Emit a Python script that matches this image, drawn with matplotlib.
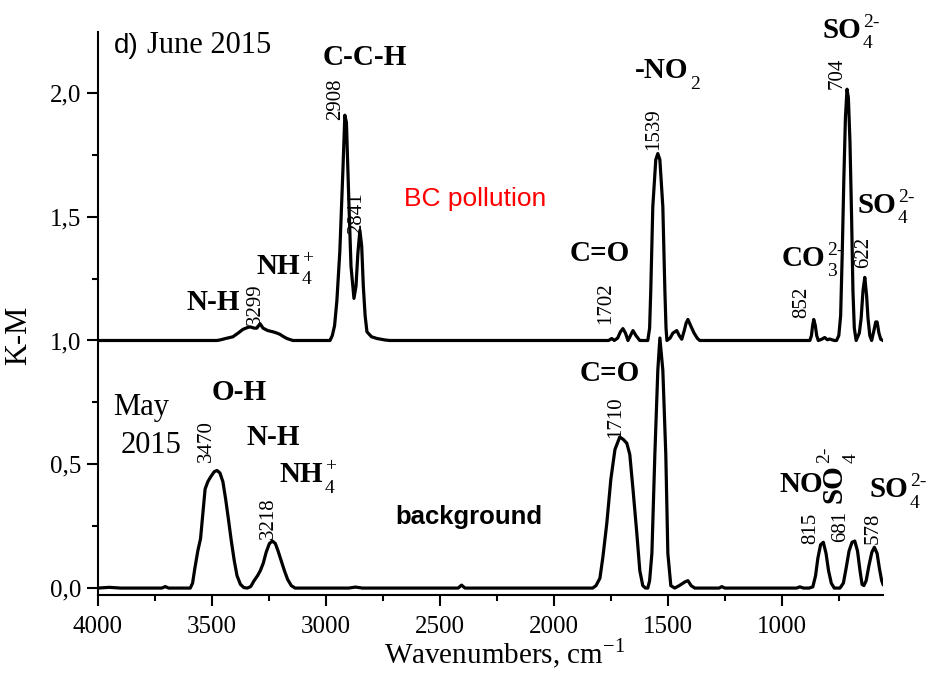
import matplotlib
matplotlib.use("Agg")
import matplotlib.pyplot as plt
from matplotlib.ticker import MultipleLocator

plt.rcParams['font.family'] = 'Liberation Serif'
plt.rcParams['mathtext.fontset'] = 'custom'
plt.rcParams['mathtext.rm'] = 'Liberation Serif'
plt.rcParams['mathtext.bf'] = 'Liberation Serif:bold'

# May 2015 - background (wavenumber, K-M)
may_wn = [4000, 3950, 3900, 3720, 3705, 3690, 3595, 3585, 3575, 3562, 3550, 3540, 3530, 3518,
          3505, 3490, 3478, 3465, 3452, 3440, 3428, 3415, 3402, 3390, 3375, 3360, 3345, 3330,
          3315, 3300, 3288, 3275, 3262, 3248, 3235, 3222, 3210, 3196, 3182, 3168, 3152, 3135,
          2900, 2870, 2840, 2420, 2405, 2390,
          1830, 1815, 1798, 1785, 1768, 1750, 1732, 1711, 1695, 1680, 1667, 1653, 1636, 1623,
          1610, 1598, 1588, 1580, 1570, 1557, 1544, 1535, 1522, 1509, 1500, 1487, 1470, 1450,
          1425, 1412, 1398, 1382, 1275, 1263, 1250, 935, 921, 905,
          880, 864, 852, 842, 830, 818, 806, 795, 783, 770, 745, 730, 718, 705, 692, 680, 668,
          657, 648, 640, 630, 618, 605, 594, 582, 572, 562, 556]
may_km = [0.0, 0.003, 0.0, 0.0, 0.006, 0.0, 0.0, 0.02, 0.08, 0.15, 0.20, 0.30, 0.40, 0.43,
          0.45, 0.47, 0.475, 0.465, 0.43, 0.36, 0.28, 0.19, 0.11, 0.05, 0.015, 0.002, 0.0, 0.006,
          0.03, 0.05, 0.07, 0.10, 0.145, 0.18, 0.19, 0.18, 0.15, 0.11, 0.07, 0.035, 0.01, 0.0,
          0.0, 0.004, 0.0, 0.0, 0.012, 0.0,
          0.0, 0.01, 0.04, 0.125, 0.26, 0.44, 0.56, 0.61, 0.60, 0.585, 0.54, 0.40, 0.22, 0.07,
          0.01, 0.0, 0.0, 0.03, 0.14, 0.54, 0.88, 1.01, 0.88, 0.54, 0.14, 0.01, 0.0, 0.01,
          0.025, 0.03, 0.01, 0.0, 0.0, 0.006, 0.0, 0.0, 0.005, 0.0,
          0.0, 0.005, 0.05, 0.12, 0.175, 0.185, 0.14, 0.07, 0.02, 0.0, 0.0, 0.02, 0.08, 0.15,
          0.185, 0.19, 0.15, 0.07, 0.015, 0.01, 0.03, 0.09, 0.145, 0.165, 0.14, 0.08, 0.03, 0.015]

# June 2015 - BC pollution, drawn as read (shifted by 1 in the figure)
june_wn = [4000, 3480, 3465, 3440, 3408, 3385, 3364, 3345, 3333, 3315, 3303, 3289, 3276, 3255,
           3232, 3215, 3202, 3185, 3171, 3145, 2985,
           2982, 2972, 2962, 2952, 2939, 2925, 2917, 2910, 2899, 2890, 2877, 2868, 2860, 2851,
           2843, 2836, 2828, 2820, 2800, 2776, 2740, 2720,
           1760, 1746, 1735, 1720, 1708, 1697, 1686, 1675, 1664, 1653, 1640, 1623, 1588, 1580,
           1575, 1566, 1553, 1544, 1535, 1522, 1513, 1508, 1504, 1490, 1478, 1461, 1450, 1439,
           1428, 1420, 1412, 1400, 1385, 1370, 1360,
           877, 870, 865, 860, 853, 847, 840, 825, 812, 800, 790, 770, 760, 750, 742, 735, 728,
           721, 714, 708, 701, 694, 688, 682, 674, 660, 652, 644, 636, 628, 622, 614, 606, 596,
           588, 582, 574, 566, 556]
june_km = [1.0, 1.0, 1.002, 1.008, 1.015, 1.03, 1.045, 1.052, 1.055, 1.05, 1.05, 1.068, 1.05, 1.04,
           1.035, 1.03, 1.025, 1.015, 1.008, 1.0, 1.0,
           1.0, 1.02, 1.06, 1.16, 1.36, 1.70, 1.91, 1.88, 1.55, 1.30, 1.17, 1.22, 1.35, 1.445,
           1.38, 1.22, 1.10, 1.035, 1.015, 1.008, 1.002, 1.0,
           1.0, 1.008, 1.0, 1.01, 1.035, 1.048, 1.03, 1.0, 1.02, 1.04, 1.02, 1.0, 1.0, 1.05,
           1.2, 1.54, 1.73, 1.755, 1.73, 1.54, 1.2, 1.05, 1.0, 1.01, 1.03, 1.04, 1.02, 1.005,
           1.04, 1.07, 1.085, 1.06, 1.03, 1.008, 1.0,
           1.0, 1.02, 1.06, 1.085, 1.06, 1.02, 1.0, 1.005, 1.012, 1.003, 1.006, 1.0, 1.0, 1.02,
           1.1, 1.35, 1.65, 1.9, 2.015, 1.98, 1.8, 1.5, 1.2, 1.05, 1.0, 1.03, 1.09, 1.2, 1.255,
           1.18, 1.09, 1.02, 1.0, 1.04, 1.075, 1.075, 1.03, 1.005, 1.0]

xticks = [4000, 3500, 3000, 2500, 2000, 1500, 1000]
yticks = [0.0, 0.5, 1.0, 1.5, 2.0]
ytick_labels = ['0,0', '0,5', '1,0', '1,5', '2,0']

# peak positions: (label, wavenumber, K-M) where the number is written
june_peaks = [('2908', 2956, 1.976), ('2841', 2864, 1.516), ('3299', 3311, 1.145),
              ('1702', 1772, 1.149), ('1539', 1561, 1.855), ('704', 759, 2.081),
              ('852', 912, 1.153), ('622', 640, 1.355)]
may_peaks = [('3470', 3522, 0.593), ('3218', 3254, 0.282), ('1710', 1728, 0.69),
             ('815', 873, 0.242), ('681', 741, 0.25), ('578', 601, 0.242)]

fig = plt.figure(figsize=(9.26, 6.75), dpi=100)
ax = fig.add_axes([0.1058, 0.1185, 0.8478, 0.8341])

ax.plot(june_wn, june_km, color='black', lw=2.3)
ax.plot(may_wn, may_km, color='black', lw=2.3)

ax.set_xlim(4000, 556)
ax.set_ylim(-0.028, 2.246)
ax.set_xticks(xticks)
ax.set_yticks(yticks)
ax.set_yticklabels(ytick_labels)
ax.xaxis.set_minor_locator(MultipleLocator(250))
ax.yaxis.set_minor_locator(MultipleLocator(0.25))
ax.tick_params(which='both', direction='out', width=1.5, labelsize=18)
ax.tick_params(which='major', length=8)
ax.tick_params(which='minor', length=4)
ax.tick_params(axis='x', pad=7)
ax.tick_params(axis='y', pad=4)
for side in ['top', 'right']:
    ax.spines[side].set_visible(False)
for side in ['left', 'bottom']:
    ax.spines[side].set_linewidth(1.5)

ax.set_xlabel('Wavenumbers, cm$^{\\mathregular{-1}}$', fontsize=21)
ax.set_ylabel('K-M', fontsize=22)
ax.xaxis.set_label_coords(0.518, -0.075)
ax.yaxis.set_label_coords(-0.083, 0.462)

# peak numbers, rotated
for lbl, x, y in june_peaks + may_peaks:
    ax.text(x, y, lbl, rotation=90, fontsize=15, ha='center', va='center')


def chem(x, y, base, sub=None, sup=None, rot=0):
    t = ax.text(x, y, base, fontsize=21, fontweight='bold', ha='left', va='baseline',
                rotation=rot, rotation_mode='anchor')
    if rot == 0:
        if sub:
            ax.annotate(sub, xy=(1, 0), xycoords=t, xytext=(1, 0), textcoords='offset points',
                        fontsize=14, ha='left', va='center')
        if sup:
            ax.annotate(sup, xy=(1, 1), xycoords=t, xytext=(1, -4), textcoords='offset points',
                        fontsize=14, ha='left', va='center')
    else:
        if sub:
            ax.annotate(sub, xy=(1, 1), xycoords=t, xytext=(3, 1), textcoords='offset points',
                        fontsize=14, ha='center', va='bottom', rotation=90)
        if sup:
            ax.annotate(sup, xy=(0, 1), xycoords=t, xytext=(3, 1), textcoords='offset points',
                        fontsize=14, ha='center', va='bottom', rotation=90)


def bold(x, y, s):
    ax.text(x, y, s, fontsize=21, fontweight='bold', ha='center', va='center')


# June annotations
bold(2829, 2.141, 'C-C-H')
bold(3496, 1.153, 'N-H')
chem(3303, 1.270, 'NH', '4', '+')
bold(1798, 1.351, 'C=O')
chem(1645, 2.060, '-NO', '2')
chem(820, 2.222, 'SO', '4', '2-')
chem(667, 1.516, 'SO', '4', '2-')
chem(1000, 1.302, 'CO', '3', '2-')

# May annotations
bold(3382, 0.79, 'O-H')
bold(3232, 0.609, 'N-H')
chem(3202, 0.427, 'NH', '4', '+')
bold(1754, 0.867, 'C=O')
chem(1009, 0.387, 'NO')
chem(739, 0.343, 'SO', '4', '2-', rot=90)
chem(614, 0.367, 'SO', '4', '2-')

ax.text(2373, 0.286, 'background', family='Liberation Sans', fontweight='bold', fontsize=18.5,
        ha='center', va='center')
ax.text(2346, 1.573, 'BC pollution', family='Liberation Sans', color='red', fontsize=19,
        ha='center', va='center')
ax.text(3811, 0.73, 'May', fontsize=22, ha='center', va='center')
ax.text(3768, 0.577, '2015', fontsize=22, ha='center', va='center')
ax.text(3877, 2.19, 'd)', family='Liberation Sans', fontsize=20, ha='center', va='center')
ax.text(3785, 2.19, 'June 2015', fontsize=22, ha='left', va='center')

fig.savefig('out.png', dpi=100)
